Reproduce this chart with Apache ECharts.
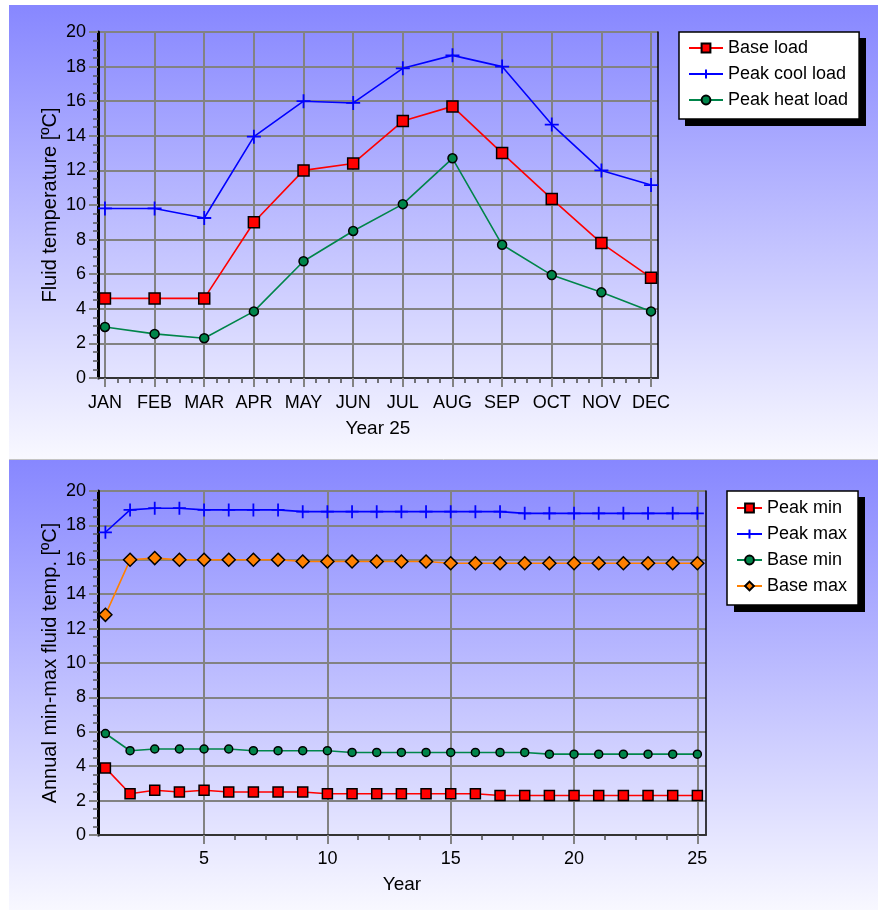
<!DOCTYPE html>
<html><head><meta charset="utf-8">
<script src="https://cdn.jsdelivr.net/npm/echarts@6/dist/echarts.min.js"></script>
<style>html,body{margin:0;padding:0;background:#fff}#c{width:878px;height:910px}</style>
</head><body><div id="c"></div>
<script>
// ---- data ----
const months = ['JAN','FEB','MAR','APR','MAY','JUN','JUL','AUG','SEP','OCT','NOV','DEC'];
const baseLoad = [4.6, 4.6, 4.6, 9.0, 12.0, 12.4, 14.85, 15.7, 13.0, 10.35, 7.8, 5.8];
const peakCool = [9.8, 9.8, 9.25, 13.95, 16.0, 15.9, 17.9, 18.65, 18.0, 14.65, 12.0, 11.15];
const peakHeat = [2.95, 2.55, 2.3, 3.85, 6.75, 8.5, 10.05, 12.7, 7.7, 5.95, 4.95, 3.85];

const years = [1,2,3,4,5,6,7,8,9,10,11,12,13,14,15,16,17,18,19,20,21,22,23,24,25];
const peakMin = [3.9,2.4,2.6,2.5,2.6,2.5,2.5,2.5,2.5,2.4,2.4,2.4,2.4,2.4,2.4,2.4,2.3,2.3,2.3,2.3,2.3,2.3,2.3,2.3,2.3];
const peakMax = [17.6,18.9,19.0,19.0,18.9,18.9,18.9,18.9,18.8,18.8,18.8,18.8,18.8,18.8,18.8,18.8,18.8,18.7,18.7,18.7,18.7,18.7,18.7,18.7,18.7];
const baseMin = [5.9,4.9,5.0,5.0,5.0,5.0,4.9,4.9,4.9,4.9,4.8,4.8,4.8,4.8,4.8,4.8,4.8,4.8,4.7,4.7,4.7,4.7,4.7,4.7,4.7];
const baseMax = [12.8,16.0,16.1,16.0,16.0,16.0,16.0,16.0,15.9,15.9,15.9,15.9,15.9,15.9,15.8,15.8,15.8,15.8,15.8,15.8,15.8,15.8,15.8,15.8,15.8];

const monthTicks = months.map((m, i) => i + 1);
const yearMajorTicks = [5, 10, 15, 20, 25];

// minor ticks derived from the major ticks (4 sub-intervals)
function subdivide(majors, n) {
  const out = [];
  for (let i = 0; i < majors.length - 1; i++) {
    const a = majors[i], b = majors[i + 1];
    for (let k = 1; k < n; k++) out.push(a + (b - a) * k / n);
  }
  return out;
}
const monthMinorTicks = subdivide(monthTicks, 4);
const yearMinorTicks = subdivide(yearMajorTicks, 4);

// ---- styling ----
const FONT = 'Liberation Sans, Arial, sans-serif';
const GRIDC = '#828282';
const PLUS = 'path://M5,0 L5,10 M0,5 L10,5';
const RED = '#ff0000', BLUE = '#0000ff', GREEN = '#00854a', ORANGE = '#ff8000';

const G0 = {left: 98, top: 32, width: 560, height: 346};
const G1 = {left: 98, top: 491, width: 608, height: 344};

function yAxisMain(grid, name) {
  return {
    type: 'value', gridIndex: grid, position: 'left', min: 0, max: 20, interval: 2,
    axisLine: {show: true, lineStyle: {color: '#000', width: 3}},
    axisTick: {show: true, length: 9, lineStyle: {color: GRIDC, width: 2}},
    minorTick: {show: true, splitNumber: 4, length: 5, lineStyle: {color: '#5a5a5a', width: 1.5}},
    axisLabel: {fontSize: 18, color: '#000', fontFamily: FONT, margin: 12,
      formatter: v => String(v)},
    splitLine: {show: true, lineStyle: {color: GRIDC, width: 2}},
    name: name, nameLocation: 'middle', nameGap: 38, nameMoveOverlap: false,
    nameTextStyle: {fontSize: 20, color: '#000', fontFamily: FONT}
  };
}
function yAxisRight(grid) {
  return {type: 'value', gridIndex: grid, position: 'right', min: 0, max: 20,
    axisLine: {show: true, lineStyle: {color: '#000', width: 1.5}},
    axisTick: {show: false}, axisLabel: {show: false}, splitLine: {show: false}};
}
function yAxisHidden(grid) {
  return {type: 'value', gridIndex: grid, min: 0, max: 20, show: false};
}
function minorX(grid, min, max, vals) {
  return {type: 'value', gridIndex: grid, position: 'bottom', min: min, max: max,
    axisLine: {show: false},
    axisTick: {show: true, customValues: vals, length: 5, lineStyle: {color: '#4a4a4a', width: 1.5}},
    axisLabel: {show: false}, splitLine: {show: false}};
}

function lineSeries(name, xi, yi, xs, ys, color, symbol, size, border) {
  return {
    name: name, type: 'line', xAxisIndex: xi, yAxisIndex: yi,
    data: xs.map((x, i) => [x, ys[i]]),
    symbol: symbol, symbolSize: size, showAllSymbol: true,
    lineStyle: {color: color, width: 1.6},
    itemStyle: border ? {color: color, borderColor: '#000', borderWidth: 1.5}
                      : {color: color, borderColor: color, borderWidth: 1.8},
    z: 3, animation: false
  };
}

function legendBox(names, left, top, padding, itemWidth) {
  return {
    data: names, orient: 'vertical', left: left, top: top, padding: padding,
    itemWidth: itemWidth, itemHeight: 11, itemGap: 8,
    backgroundColor: '#fff', borderColor: '#000', borderWidth: 1.5,
    textStyle: {fontSize: 18, color: '#000', fontFamily: FONT}
  };
}

const chart = echarts.init(document.getElementById('c'), null, {renderer: 'canvas'});
chart.setOption({
  animation: false,
  textStyle: {fontFamily: FONT},
  graphic: [
    {type: 'rect', z: -100, silent: true, shape: {x: 9, y: 5, width: 869, height: 454},
      style: {fill: new echarts.graphic.LinearGradient(0, 0, 0, 1, [
        {offset: 0, color: '#8787ff'}, {offset: 1, color: '#f8f8ff'}])}},
    {type: 'rect', z: -100, silent: true, shape: {x: 9, y: 460, width: 869, height: 450},
      style: {fill: new echarts.graphic.LinearGradient(0, 0, 0, 1, [
        {offset: 0, color: '#8787ff'}, {offset: 1, color: '#f8f8ff'}])}},
    {type: 'line', z: -99, silent: true, shape: {x1: 9, y1: 459.5, x2: 878, y2: 459.5},
      style: {stroke: '#c4c4c4', lineWidth: 1}},
    // legend drop shadows
    {type: 'rect', z: 2, silent: true, shape: {x: 685, y: 38, width: 181, height: 88},
      style: {fill: '#000'}},
    {type: 'rect', z: 2, silent: true, shape: {x: 734, y: 497, width: 131, height: 115},
      style: {fill: '#000'}}
  ],
  grid: [
    Object.assign({}, G0), Object.assign({}, G1),
    Object.assign({}, G0), Object.assign({}, G1)
  ],
  legend: [
    legendBox(['Base load', 'Peak cool load', 'Peak heat load'], 679, 32, [7, 11, 10, 9], 34),
    legendBox(['Peak min', 'Peak max', 'Base min', 'Base max'], 727, 491, [8, 11, 10, 9], 25)
  ],
  xAxis: [
    {type: 'value', gridIndex: 0, position: 'bottom', min: 0.86, max: 12.14,
      axisLine: {show: true, lineStyle: {color: '#333', width: 2}},
      axisTick: {show: true, customValues: monthTicks, length: 9, lineStyle: {color: GRIDC, width: 2}},
      axisLabel: {customValues: monthTicks, formatter: v => months[Math.round(v) - 1],
        fontSize: 18, color: '#000', fontFamily: FONT, margin: 16},
      splitLine: {show: true, lineStyle: {color: GRIDC, width: 2}},
      name: 'Year 25', nameLocation: 'middle', nameGap: 41,
      nameTextStyle: {fontSize: 19, color: '#000', fontFamily: FONT}},
    {type: 'value', gridIndex: 1, position: 'bottom', min: 0.7, max: 25.35,
      axisLine: {show: true, lineStyle: {color: '#333', width: 2}},
      axisTick: {show: true, customValues: yearMajorTicks, length: 9, lineStyle: {color: GRIDC, width: 2}},
      axisLabel: {customValues: yearMajorTicks, fontSize: 18, color: '#000', fontFamily: FONT, margin: 15},
      splitLine: {show: true, lineStyle: {color: GRIDC, width: 2}},
      name: 'Year', nameLocation: 'middle', nameGap: 40,
      nameTextStyle: {fontSize: 19, color: '#000', fontFamily: FONT}},
    minorX(2, 0.86, 12.14, monthMinorTicks),
    minorX(3, 0.7, 25.35, yearMinorTicks)
  ],
  yAxis: [
    yAxisMain(0, 'Fluid temperature [ºC]'),
    yAxisMain(1, 'Annual min-max fluid temp. [ºC]'),
    yAxisRight(0), yAxisRight(1),
    yAxisHidden(2), yAxisHidden(3)
  ],
  series: [
    lineSeries('Base load', 0, 0, monthTicks, baseLoad, RED, 'rect', 11, true),
    lineSeries('Peak cool load', 0, 0, monthTicks, peakCool, BLUE, PLUS, 14, false),
    lineSeries('Peak heat load', 0, 0, monthTicks, peakHeat, GREEN, 'circle', 9, true),
    lineSeries('Peak min', 1, 1, years, peakMin, RED, 'rect', 10, true),
    lineSeries('Peak max', 1, 1, years, peakMax, BLUE, PLUS, 13, false),
    lineSeries('Base min', 1, 1, years, baseMin, GREEN, 'circle', 8, true),
    lineSeries('Base max', 1, 1, years, baseMax, ORANGE, 'diamond', 13, true)
  ]
});
</script>
</body></html>
